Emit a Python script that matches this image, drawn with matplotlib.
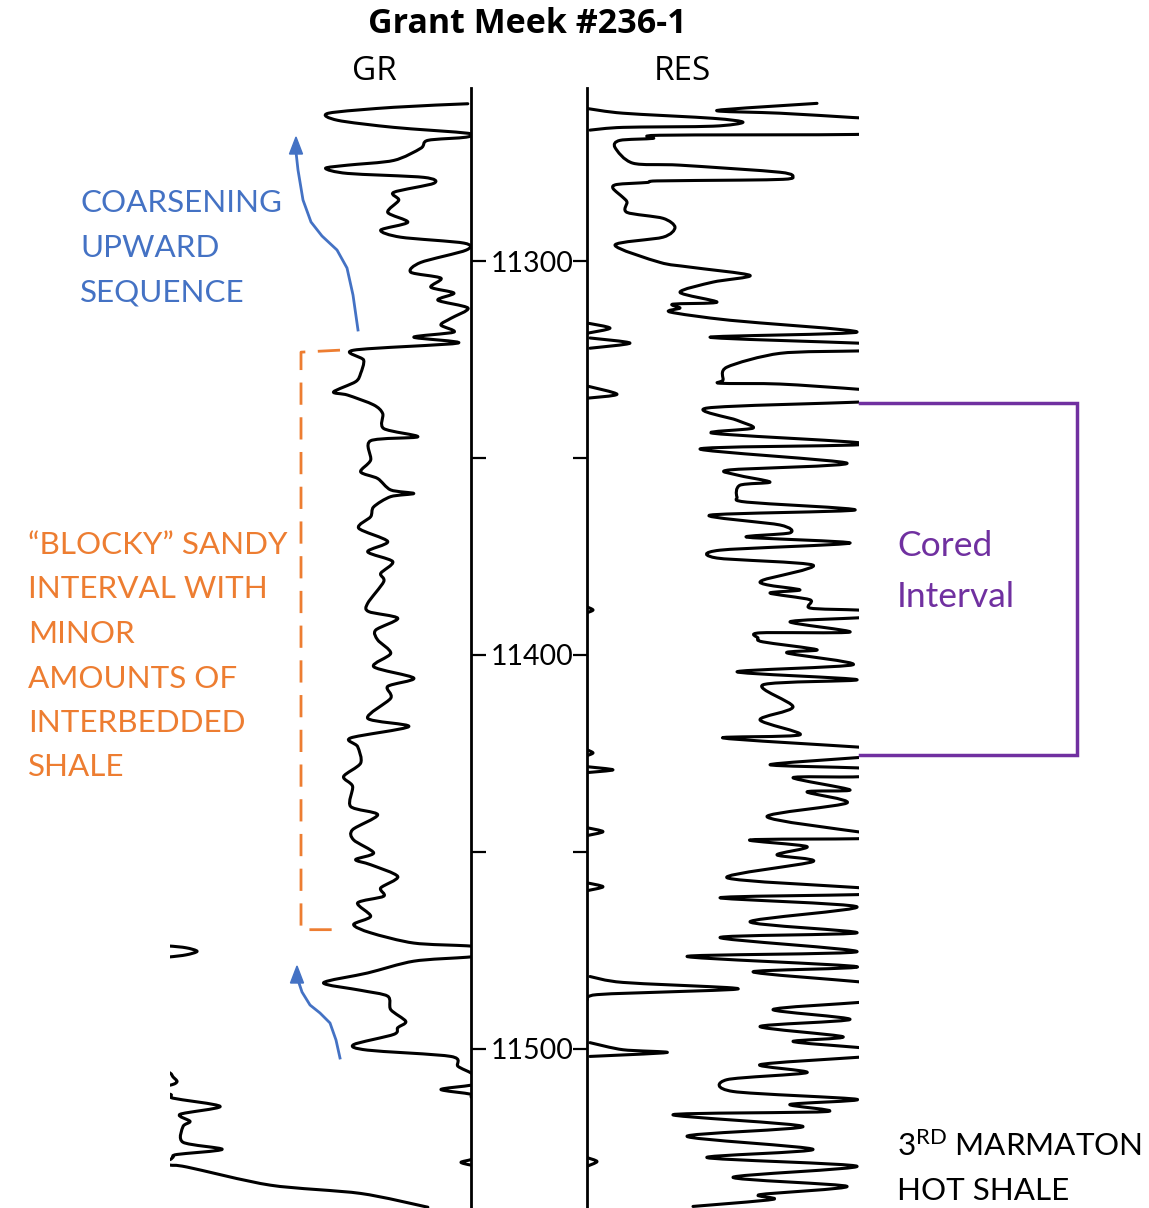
import numpy as np
import matplotlib
matplotlib.use("Agg")
import matplotlib.pyplot as plt
from matplotlib.patches import Polygon, PathPatch
from matplotlib.path import Path

plt.rcParams['font.family'] = ['Lato', 'DejaVu Sans']
plt.rcParams['mathtext.fontset'] = 'custom'
plt.rcParams['mathtext.rm'] = 'Lato'
plt.rcParams['mathtext.default'] = 'regular'

# ---------------- data (depth in ft) ----------------
gr_depth = [11260.0, 11260.9, 11262.4, 11264.2, 11266.0, 11267.5, 11268.5, 11269.3, 11271.3, 11274.4,
            11275.6, 11276.4, 11277.7, 11278.7, 11280.2, 11282.5, 11284.5, 11287.6, 11290.1, 11292.1,
            11293.9, 11295.4, 11297.2, 11300.3, 11302.8, 11304.3, 11306.6, 11308.1, 11309.9, 11311.9,
            11314.5, 11316.2, 11318.0, 11319.3, 11320.8, 11322.6, 11325.1, 11328.5, 11330.6, 11333.2,
            11334.0, 11336.5, 11338.7, 11342.5, 11344.6, 11345.6, 11350.5, 11353.5, 11355.2, 11358.1,
            11359.0, 11359.8, 11362.4, 11364.9, 11367.8, 11371.2, 11373.8, 11376.3, 11379.3, 11381.4,
            11386.9, 11389.0, 11390.7, 11393.7, 11396.2, 11399.6, 11403.0, 11405.9, 11408.0, 11411.0,
            11416.1, 11418.2, 11421.1, 11423.3, 11427.5, 11430.9, 11433.4, 11438.5, 11440.6, 11444.4,
            11447.0, 11450.3, 11452.0, 11453.3, 11456.3, 11459.2, 11461.3, 11463.0, 11466.4, 11468.5,
            11470.6, 11473.2, 11473.9, 11474.4, 11475.3, 11476.2, 11476.8, 11477.8, 11480.8, 11483.3,
            11485.2, 11486.7, 11490.1, 11493.1, 11494.7, 11496.4, 11499.0, 11500.4, 11502.0, 11504.5,
            11506.2, 11507.2, 11508.4, 11509.3, 11510.4, 11511.6, 11512.6, 11514.7, 11516.7, 11518.5,
            11519.8, 11523.8, 11525.6, 11526.9, 11527.6, 11528.2, 11528.9, 11529.6, 11530.1, 11534.7,
            11536.8, 11540.3]
gr_api = [148.4, 111.5, 79.0, 83.5, 111.5, 148.5, 147.5, 128.5, 125.0, 111.5,
          88.5, 77.5, 88.5, 126.5, 131.5, 111.5, 114.0, 108.5, 118.5, 105.0,
          115.0, 146.5, 147.5, 125.0, 120.0, 135.0, 130.0, 141.5, 133.5, 148.5,
          140.0, 135.0, 141.5, 121.5, 143.5, 91.5, 96.5, 95.0, 92.5, 81.5,
          88.5, 101.5, 106.0, 106.5, 123.5, 100.0, 100.0, 95.0, 103.5, 110.0,
          121.5, 110.0, 101.5, 100.0, 94.0, 108.5, 98.5, 111.0, 105.0, 106.5,
          98.5, 99.0, 113.5, 102.5, 103.5, 110.0, 101.5, 121.5, 108.5, 110.0,
          98.5, 119.0, 90.0, 93.5, 95.0, 86.5, 91.0, 90.0, 103.5, 91.0,
          91.5, 101.5, 92.5, 100.0, 113.5, 105.0, 106.5, 93.5, 100.0, 91.5,
          100.0, 121.5, 148.0, 158.0, 163.5, 158.0, 148.0, 121.5, 98.5, 76.5,
          95.0, 108.5, 110.0, 117.5, 113.5, 111.5, 91.5, 98.5, 140.0, 143.5,
          150.0, 151.5, 153.5, 150.0, 135.0, 150.0, 151.5, 175.0, 155.0, 160.0,
          156.5, 156.5, 176.0, 153.5, 151.5, 150.0, 145.0, 150.0, 158.5, 200.0,
          245.0, 278.5]

res_depth = [11259.9, 11261.7, 11262.4, 11263.5, 11264.0, 11267.0, 11267.8, 11268.0, 11268.8, 11269.3,
             11271.1, 11275.1, 11275.6, 11277.4, 11278.7, 11279.2, 11279.4, 11279.6, 11280.0, 11280.5,
             11281.5, 11283.8, 11285.0, 11287.6, 11289.1, 11291.4, 11293.9, 11295.9, 11300.3, 11301.5,
             11303.6, 11305.3, 11307.9, 11310.4, 11310.9, 11311.9, 11312.9, 11315.0, 11318.0, 11319.3,
             11320.8, 11321.3, 11322.6, 11322.8, 11323.4, 11326.9, 11330.2, 11331.0, 11331.2, 11332.5,
             11333.2, 11335.3, 11335.8, 11337.3, 11340.4, 11342.4, 11343.7, 11345.9, 11346.7, 11347.7,
             11351.3, 11353.0, 11354.3, 11356.1, 11356.9, 11359.9, 11361.2, 11363.2, 11364.5, 11367.0,
             11369.0, 11370.1, 11371.6, 11373.4, 11375.4, 11377.2, 11381.0, 11382.2, 11383.5, 11384.3,
             11386.0, 11388.1, 11388.6, 11389.1, 11390.1, 11390.6, 11391.6, 11394.2, 11394.4, 11395.7,
             11396.7, 11398.7, 11399.5, 11402.5, 11404.3, 11406.3, 11407.6, 11413.2, 11416.5, 11420.3,
             11421.1, 11423.4, 11423.9, 11425.6, 11426.1, 11427.9, 11428.7, 11429.2, 11430.5, 11431.0,
             11431.2, 11434.3, 11434.8, 11437.6, 11441.1, 11444.9, 11445.4, 11446.2, 11446.7, 11447.0,
             11448.7, 11450.8, 11452.5, 11456.6, 11459.1, 11459.6, 11460.4, 11460.9, 11461.7, 11464.0,
             11467.8, 11470.6, 11471.8, 11475.4, 11476.6, 11479.2, 11480.5, 11483.0, 11483.8, 11487.6,
             11488.3, 11490.1, 11492.6, 11494.4, 11497.0, 11498.2, 11499.7, 11500.3, 11501.8, 11502.3,
             11504.1, 11506.1, 11507.9, 11510.9, 11512.9, 11514.2, 11516.0, 11516.8, 11519.8, 11522.3,
             11525.6, 11527.7, 11529.9, 11532.7, 11535.0, 11537.1, 11538.3, 11540.1]
res_val = [115.0, 65.0, 96.5, 133.0, 144.0, 144.0, 134.0, 36.5, 33.0, 16.5,
           14.0, 23.0, 46.5, 96.5, 103.0, 98.0, 76.5, 35.0, 30.0, 15.0,
           13.0, 18.0, 20.0, 20.0, 38.0, 44.0, 38.0, 14.0, 36.5, 51.5,
           81.5, 63.0, 46.5, 65.0, 43.0, 46.5, 41.5, 71.5, 135.0, 61.5,
           135.0, 146.5, 146.5, 135.0, 96.5, 70.0, 68.0, 66.5, 96.5, 135.0,
           146.5, 146.5, 135.0, 60.0, 75.0, 83.0, 63.0, 131.5, 133.0, 56.5,
           130.0, 71.5, 75.0, 91.5, 76.5, 75.0, 80.0, 134.0, 61.5, 96.5,
           101.5, 80.0, 131.5, 66.5, 65.0, 113.0, 88.0, 90.0, 106.5, 91.5,
           111.5, 111.5, 135.0, 146.5, 146.5, 135.0, 101.5, 131.5, 86.5, 85.5,
           88.0, 115.0, 100.0, 133.0, 75.0, 135.0, 88.0, 103.0, 86.5, 106.5,
           68.0, 135.0, 146.0, 146.0, 135.0, 91.5, 135.0, 146.0, 146.0, 133.0,
           103.0, 131.5, 110.0, 130.0, 90.0, 135.0, 146.0, 146.0, 135.0, 81.5,
           110.0, 95.0, 113.0, 70.0, 135.0, 146.0, 146.0, 135.0, 66.5, 135.0,
           81.5, 135.0, 66.5, 135.0, 50.0, 135.0, 83.0, 135.0, 146.0, 146.0,
           135.5, 93.0, 131.5, 86.5, 128.0, 103.0, 135.0, 146.0, 146.0, 133.0,
           86.5, 110.0, 70.0, 73.0, 135.0, 101.5, 120.0, 43.0, 108.0, 50.0,
           113.0, 60.0, 135.0, 73.0, 130.0, 86.5, 93.0, 53.0]

nan = float('nan')
res_backup_depth = [11261.2, 11262.4, 11263.7, 11264.7, 11265.7, 11266.0, 11266.7, nan,
                    11315.7, 11317.0, 11318.3, nan,
                    11319.5, 11320.8, 11322.1, nan,
                    11331.7, 11333.8, 11334.8, nan,
                    11387.8, 11388.6, 11389.3, nan,
                    11424.1, 11424.9, 11425.6, nan,
                    11428.4, 11429.2, 11429.9, nan,
                    11443.9, 11444.9, 11445.9, nan,
                    11457.9, 11458.9, 11459.9, nan,
                    11481.7, 11483.2, 11484.5, 11485.0, 11485.5, 11486.3, 11487.6, nan,
                    11498.5, 11500.3, 11501.0, 11502.0, nan,
                    11527.7, 11528.7, 11529.9]
res_backup_val = [0.0, 18.0, 63.0, 78.0, 63.0, 18.0, 1.5, nan,
                  0.0, 11.5, 0.0, nan,
                  1.5, 21.5, 1.5, nan,
                  0.0, 15.0, 0.0, nan,
                  0.0, 3.0, 0.0, nan,
                  0.0, 3.0, 0.0, nan,
                  0.0, 13.0, 0.0, nan,
                  0.0, 8.0, 0.0, nan,
                  0.0, 8.0, 0.0, nan,
                  1.5, 18.0, 70.0, 73.0, 46.5, 5.0, 0.0, nan,
                  1.5, 18.0, 40.0, 1.5, nan,
                  0.0, 5.0, 0.0]

depth_ticks = [11300, 11350, 11400, 11450, 11500]
depth_tick_labels = ['11300', '', '11400', '', '11500']

cored_interval = (11336.0, 11425.4)
blocky_interval = (11323.1, 11469.8)

title = 'Grant Meek #236-1'
gr_label, res_label = 'GR', 'RES'
blue_lines = ['COARSENING', 'UPWARD', 'SEQUENCE']
orange_lines = ['\u201cBLOCKY\u201d SANDY', 'INTERVAL WITH', 'MINOR', 'AMOUNTS OF',
                'INTERBEDDED', 'SHALE']
purple_lines = ['Cored', 'Interval']
black_lines = [r'3$^{RD}$ MARMATON', 'HOT SHALE']

# ---------------- layout ----------------
W, H = 1149, 1208
TOP, BOT = 11256.0, 11540.5
TRACK_TOP = 88
GR_MAX, RES_MAX = 150.0, 136.0
BLUE, ORANGE, PURPLE = '#4472C4', '#ED7D31', '#7030A0'

fig = plt.figure(figsize=(W / 100, H / 100), dpi=100)


def rect(x0, x1):
    return [x0 / W, 0, (x1 - x0) / W, (H - TRACK_TOP) / H]


def dpx(d):
    return TRACK_TOP + (d - TOP) * (H - TRACK_TOP) / (BOT - TOP)


LW = 2.2
SPINE_LW = 2.0


def smooth_trace(ax, xs, ys, tension=0.85):
    """Draw a smooth (Catmull-Rom) curve through the given log samples."""
    xs = np.asarray(xs, float)
    ys = np.asarray(ys, float)
    bad = np.isnan(xs) | np.isnan(ys)
    runs, cur = [], []
    for i in range(len(xs)):
        if bad[i]:
            if cur:
                runs.append(cur)
            cur = []
        else:
            cur.append(i)
    if cur:
        runs.append(cur)
    for run in runs:
        P = np.column_stack([xs[run], ys[run]])
        n = len(P)
        if n < 2:
            continue
        verts = [P[0]]
        codes = [Path.MOVETO]
        for i in range(n - 1):
            p0 = P[i - 1] if i > 0 else P[i]
            p1, p2 = P[i], P[i + 1]
            p3 = P[i + 2] if i + 2 < n else P[i + 1]
            c1 = p1 + (p2 - p0) * tension / 6.0
            c2 = p2 - (p3 - p1) * tension / 6.0
            verts += [c1, c2, p2]
            codes += [Path.CURVE4] * 3
        ax.add_patch(PathPatch(Path(verts, codes), fill=False, edgecolor='black', lw=LW,
                               joinstyle='round', capstyle='round'))


gr_ax = fig.add_axes(rect(170, 471))
gr = np.array(gr_api)
gd = np.array(gr_depth)
smooth_trace(gr_ax, gr, gd)
# wrapped (off-scale) part of the GR curve, only where it actually exceeds the scale
wrap = gd >= 11472.0
smooth_trace(gr_ax, gr[wrap] - GR_MAX, gd[wrap])
smooth_trace(gr_ax, gr[wrap] - 2 * GR_MAX, gd[wrap])
gr_ax.set_xlim(0, GR_MAX)
gr_ax.set_ylim(BOT, TOP)
for s in ['left', 'top', 'bottom']:
    gr_ax.spines[s].set_visible(False)
gr_ax.spines['right'].set_linewidth(SPINE_LW)
gr_ax.set_xticks([])
gr_ax.yaxis.tick_right()
gr_ax.set_yticks(depth_ticks)
gr_ax.set_yticklabels(depth_tick_labels)
gr_ax.tick_params(axis='y', direction='out', length=11, width=1.6, pad=3, labelsize=20.5)
gr_ax.patch.set_alpha(0)

res_ax = fig.add_axes(rect(587, 587 + 2 * RES_MAX))
smooth_trace(res_ax, res_val, res_depth)
smooth_trace(res_ax, res_backup_val, res_backup_depth)
res_ax.set_xlim(0, RES_MAX)
res_ax.set_ylim(BOT, TOP)
for s in ['right', 'top', 'bottom']:
    res_ax.spines[s].set_visible(False)
res_ax.spines['left'].set_linewidth(SPINE_LW)
res_ax.set_xticks([])
res_ax.set_yticks(depth_ticks)
res_ax.set_yticklabels([])
res_ax.tick_params(axis='y', direction='out', length=10, width=1.6)
res_ax.patch.set_alpha(0)

# overlay for annotations (pixel units)
ann = fig.add_axes([0, 0, 1, 1])
ann.set_xlim(0, W)
ann.set_ylim(H, 0)
ann.axis('off')
ann.patch.set_alpha(0)

ann.text(527, 24, title, ha='center', va='center', fontsize=24.5, fontweight='bold',
         family=['Open Sans', 'DejaVu Sans'])
ann.text(374, 71, gr_label, ha='center', va='center', fontsize=24, family=['Open Sans', 'DejaVu Sans'])
ann.text(682, 71, res_label, ha='center', va='center', fontsize=24, family=['Open Sans', 'DejaVu Sans'])

TXT = 22.6
for i, t in enumerate(blue_lines):
    ann.text(80, 203 + 45 * i, t, color=BLUE, fontsize=TXT, va='center', ha='left')
for i, t in enumerate(orange_lines):
    ann.text(28, 545 + 44.5 * i, t, color=ORANGE, fontsize=TXT, va='center', ha='left')
for i, t in enumerate(purple_lines):
    ann.text(897, 546 + 51 * i, t, color=PURPLE, fontsize=25.5, va='center', ha='left')
for i, t in enumerate(black_lines):
    ann.text(897, 1146 + 45 * i, t, color='black', fontsize=TXT, va='center', ha='left')

# orange dashed bracket
yt, yb = dpx(blocky_interval[0]), dpx(blocky_interval[1])
ann.plot([340, 301, 301, 336], [yt - 2, yt, yb, yb], color=ORANGE, lw=2.0,
         linestyle=(0, (8.0, 4.5)))

# purple bracket
yt, yb = dpx(cored_interval[0]), dpx(cored_interval[1])
ann.plot([860, 1077, 1077, 860], [yt, yt, yb, yb], color=PURPLE, lw=2.5,
         solid_joinstyle='miter')

# blue arrows
a1x = [358, 353, 347, 337, 322, 311, 303, 298, 296]
a1y = [330, 295, 268, 250, 236, 222, 200, 170, 152]
ann.plot(a1x, a1y, color=BLUE, lw=2.0)
ann.add_patch(Polygon([[296, 137], [289.5, 154], [302.5, 154]], closed=True, color=BLUE))
a2x = [340, 336, 330, 320, 310, 302, 298]
a2y = [1058, 1040, 1023, 1013, 1005, 992, 980]
ann.plot(a2x, a2y, color=BLUE, lw=2.0)
ann.add_patch(Polygon([[297, 966], [290.5, 983], [303.5, 983]], closed=True, color=BLUE))

fig.savefig('out.png', dpi=100, facecolor='white')
